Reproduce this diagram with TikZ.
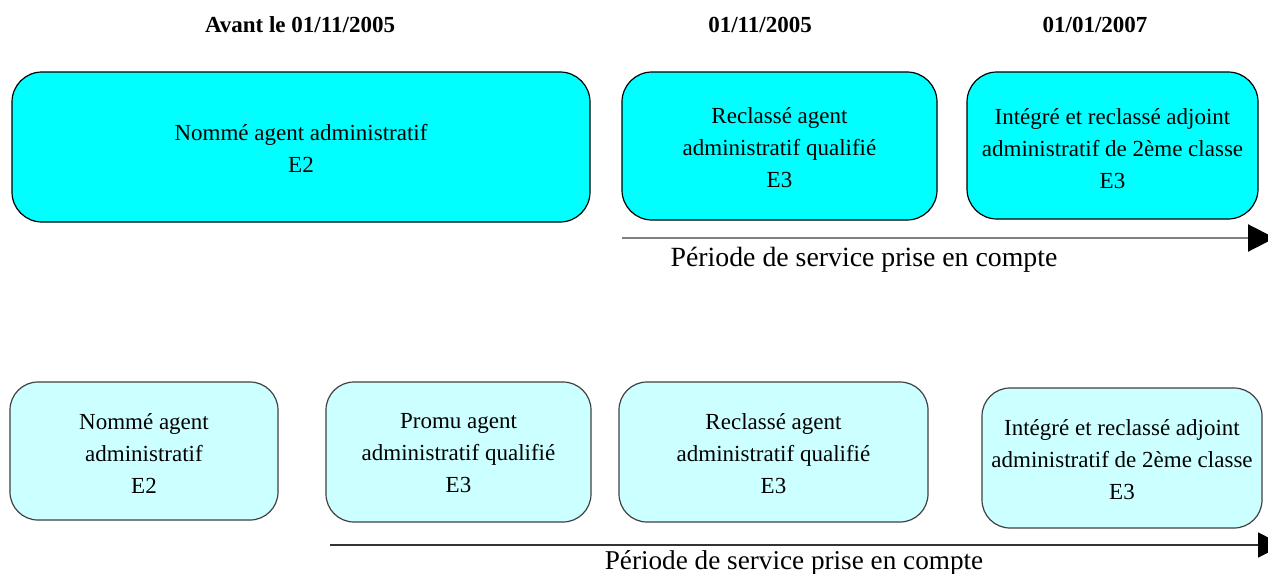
\documentclass[tikz,border=0pt]{standalone}
\usepackage{fontspec}
\setmainfont{Liberation Serif}
\usetikzlibrary{arrows.meta}
\definecolor{topfill}{RGB}{0,255,255}
\definecolor{botfill}{RGB}{204,255,255}
\definecolor{linegray}{RGB}{128,128,128}
\tikzset{
  toptext/.style={font=\fontsize{23}{32}\selectfont, align=center, inner sep=0pt},
  bottext/.style={font=\fontsize{23}{32}\selectfont, align=center, inner sep=0pt},
  topbox/.style={draw=black, line width=1.2pt, fill=topfill, rounded corners=30pt, inner sep=0pt},
  botbox/.style={draw=black!75, line width=1.2pt, fill=botfill, rounded corners=28pt, inner sep=0pt},
  header/.style={font=\fontsize{23}{28}\selectfont\bfseries, inner sep=0pt},
  period/.style={font=\fontsize{27.8}{32}\selectfont, inner sep=0pt},
  timeline/.style={draw=linegray, line width=2pt},
}
\begin{document}
\begin{tikzpicture}[x=1pt,y=-1pt]
\useasboundingbox (0,0) rectangle (1268,573);
% headers
\node[header] (h1) at (300,25) {Avant le 01/11/2005};
\node[header] (h2) at (760,25) {01/11/2005};
\node[header] (h3) at (1095,25) {01/01/2007};
% top row boxes
\node[topbox, minimum width=578pt, minimum height=150pt] (a) at (301,147) {};
\node[topbox, minimum width=315pt, minimum height=148pt] (b) at (779.5,146) {};
\node[topbox, minimum width=291pt, minimum height=147pt] (c) at (1112.5,145.5) {};
\node[toptext] (at) at (301,148) {Nommé agent administratif\\E2};
\node[toptext] (bt) at (779.5,147.5) {Reclassé agent\\administratif qualifié\\E3};
\node[toptext] (ct) at (1112.5,148.5) {Intégré et reclassé adjoint\\administratif de 2ème classe\\E3};
% top timeline
\coordinate (t1s) at (622,238);
\coordinate (t1e) at (1275,238);
\draw[timeline, -{Triangle[length=27pt,width=27pt,color=black]}] (t1s) -- (t1e);
\node[period] (p1) at (864,260) {Période de service prise en compte};
% bottom row boxes
\node[botbox, minimum width=268pt, minimum height=138pt] (d) at (144,451) {};
\node[botbox, minimum width=265pt, minimum height=140pt] (e) at (458.5,452) {};
\node[botbox, minimum width=309pt, minimum height=140pt] (f) at (773.5,452) {};
\node[botbox, minimum width=280pt, minimum height=140pt] (g) at (1122,458) {};
\node[bottext] (dt) at (144,453) {Nommé agent\\administratif\\E2};
\node[bottext] (et) at (458.5,453.5) {Promu agent\\administratif qualifié\\E3};
\node[bottext] (ft) at (773.5,453.5) {Reclassé agent\\administratif qualifié\\E3};
\node[bottext] (gt) at (1122,459.5) {Intégré et reclassé adjoint\\administratif de 2ème classe\\E3};
% bottom timeline
\coordinate (t2s) at (330,545);
\coordinate (t2e) at (1283,545);
\draw[timeline, line width=1.5pt, draw=black!80, -{Triangle[length=25pt,width=25pt,color=black]}] (t2s) -- (t2e);
\node[period, font=\fontsize{27.2}{32}\selectfont] (p2) at (794,562.5) {Période de service prise en compte};
\end{tikzpicture}
\end{document}
